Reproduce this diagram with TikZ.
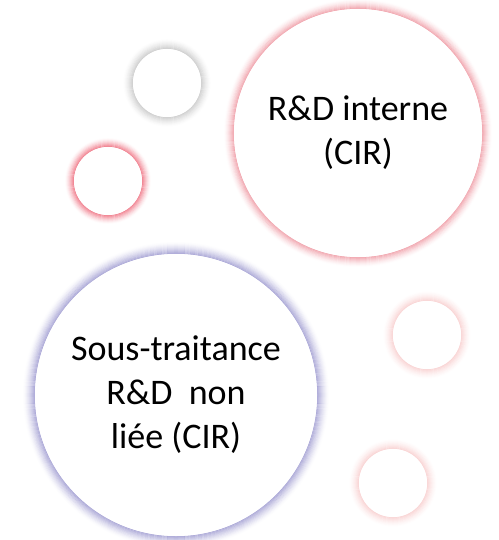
\documentclass[tikz,border=0pt]{standalone}
\usepackage{fontspec}
\setmainfont{Carlito}
\definecolor{glowpink}{RGB}{230,100,115}
\definecolor{glowlav}{RGB}{120,115,190}
\definecolor{glowgray}{RGB}{150,150,150}
\definecolor{glowred}{RGB}{235,80,100}
\definecolor{glowfaint}{RGB}{240,150,150}
\newcommand{\glowring}[5]{% node, radius(pt), colour, max opacity, width
  \foreach \k [evaluate=\k as \op using {#4*(1-(\k-1)/#5)^1.6},
               evaluate=\k as \rr using {#2+\k-0.5}] in {1,...,#5}{
    \draw[#3, line width=1.05pt, opacity=\op] (#1) circle [radius=\rr pt];
  }}
\tikzset{
  bubble/.style={circle, fill=white, draw=none, inner sep=0pt, align=center,
    font=\fontsize{36}{44}\selectfont, text=black},
}
\begin{document}
\begin{tikzpicture}[x=1pt,y=-1pt]
\useasboundingbox (0,0) rectangle (498,540);
% coordinates of circle centres
\coordinate (c1) at (358,133);
\coordinate (c2) at (176,395);
\coordinate (c3) at (167,83);
\coordinate (c4) at (108,181);
\coordinate (c5) at (427,335);
\coordinate (c6) at (393,483);
% glows
\glowring{c1}{124}{glowpink}{0.5}{10}
\glowring{c2}{141}{glowlav}{0.55}{12}
\glowring{c3}{34}{glowgray}{0.4}{10}
\glowring{c4}{34}{glowred}{0.65}{9}
\glowring{c5}{34}{glowfaint}{0.35}{10}
\glowring{c6}{34}{glowfaint}{0.35}{10}
% bubbles
\node[bubble, minimum size=248pt] (rd) at (c1) {R\&D interne\\(CIR)};
\node[bubble, minimum size=282pt] (st) at (c2) {Sous-traitance\\R\&D~ non\\liée (CIR)};
\node[bubble, minimum size=68pt] (b1) at (c3) {};
\node[bubble, minimum size=68pt] (b2) at (c4) {};
\node[bubble, minimum size=68pt] (b3) at (c5) {};
\node[bubble, minimum size=68pt] (b4) at (c6) {};
\end{tikzpicture}
\end{document}
